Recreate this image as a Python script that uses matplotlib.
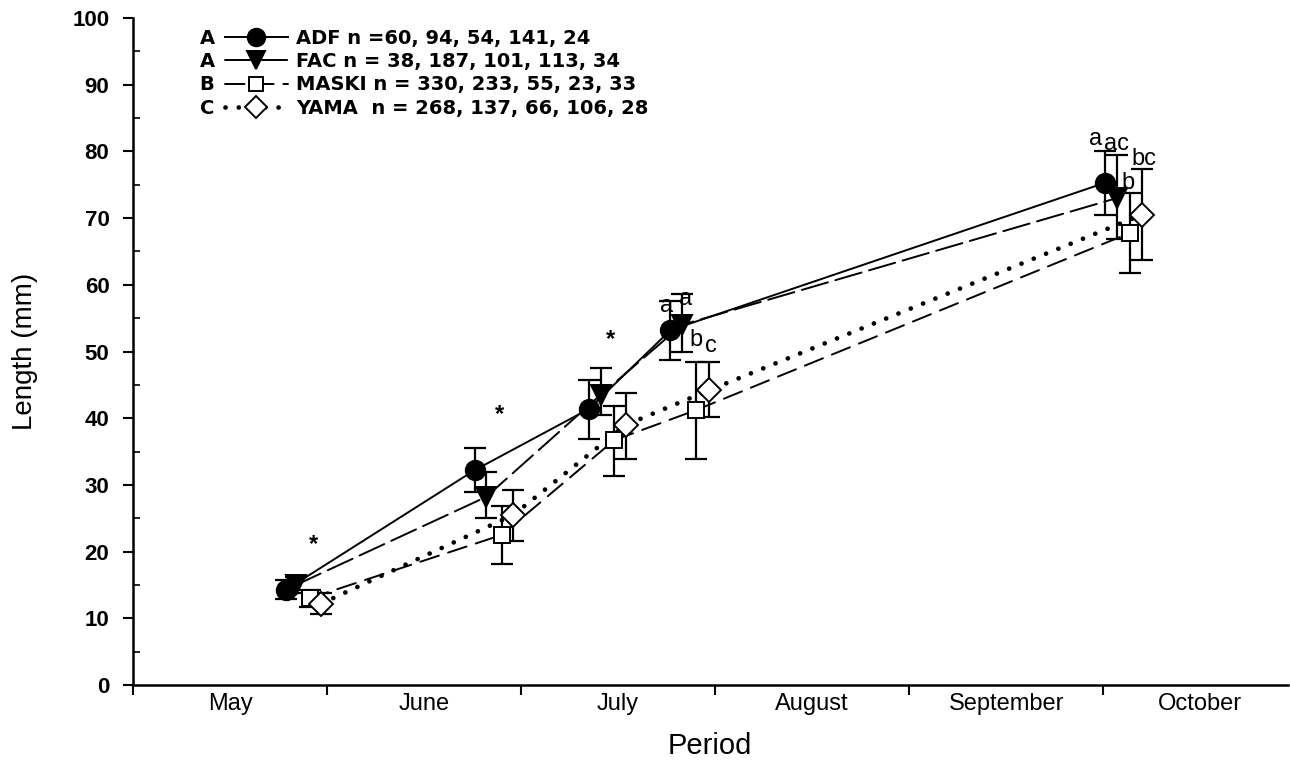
import matplotlib
matplotlib.use('Agg')
import matplotlib.pyplot as plt
from matplotlib.lines import Line2D
from matplotlib.ticker import MultipleLocator
import numpy as np

plt.rcParams['font.family'] = ['Liberation Sans', 'DejaVu Sans']

# x positions in month units (0 = start of May)
months = ['May', 'June', 'July', 'August', 'September', 'October']

adf_x = [0.79, 1.76, 2.35, 2.77, 5.01]
adf_y = [14.3, 32.2, 41.4, 53.2, 75.3]
adf_lo = [12.9, 29.0, 36.9, 48.7, 70.5]
adf_hi = [15.7, 35.5, 45.7, 57.6, 80.1]

fac_x = [0.84, 1.82, 2.41, 2.83, 5.07]
fac_y = [15.0, 28.2, 43.5, 54.0, 73.0]
fac_lo = [13.8, 25.0, 40.5, 49.9, 66.9]
fac_hi = [16.2, 32.0, 47.5, 58.6, 79.5]

maski_x = [0.91, 1.90, 2.48, 2.90, 5.14]
maski_y = [13.0, 22.5, 36.7, 41.2, 67.8]
maski_lo = [11.7, 18.1, 31.3, 33.9, 61.8]
maski_hi = [14.3, 26.9, 41.8, 48.4, 73.8]

yama_x = [0.97, 1.96, 2.54, 2.97, 5.20]
yama_y = [12.2, 25.5, 39.0, 44.2, 70.5]
yama_lo = [10.6, 21.6, 33.9, 40.2, 63.7]
yama_hi = [13.8, 29.2, 43.8, 48.4, 77.4]

labels = ['ADF n =60, 94, 54, 141, 24',
          'FAC n = 38, 187, 101, 113, 34',
          'MASKI n = 330, 233, 55, 23, 33',
          'YAMA  n = 268, 137, 66, 106, 28']
groups = ['A', 'A', 'B', 'C']

# significance marks
star_x = [0.93, 1.89, 2.46]
star_y = [21.0, 40.6, 51.8]
let_text = ['a', 'a', 'b', 'c', 'a', 'ac', 'b', 'bc']
let_x = [2.75, 2.85, 2.90, 2.98, 4.96, 5.07, 5.13, 5.21]
let_y = [56.8, 57.8, 51.8, 50.9, 81.8, 81.1, 75.2, 78.8]

fig = plt.figure(figsize=(12.9, 7.67), dpi=100)
ax = fig.add_axes([0.1031, 0.1069, 0.895, 0.8696])

series = [
    (adf_x, adf_y, adf_lo, adf_hi, '-', 'o', 'black', 14, 1.4),
    (fac_x, fac_y, fac_lo, fac_hi, (0, (14, 4)), 'v', 'black', 14, 1.4),
    (maski_x, maski_y, maski_lo, maski_hi, (0, (10, 5)), 's', 'white', 11, 1.4),
    (yama_x, yama_y, yama_lo, yama_hi, (0, (0.01, 2.8)), 'D', 'white', 12.5, 3.4),
]

handles = []
for xs, ys, lo, hi, ls, mk, fc, ms, lw in series:
    ys = np.array(ys)
    err = [ys - np.array(lo), np.array(hi) - ys]
    ax.errorbar(xs, ys, yerr=err, fmt='none', ecolor='black',
                elinewidth=1.6, capsize=8, capthick=1.6, zorder=2)
    ax.plot(xs, ys, color='black', ls=ls, lw=lw, dash_capstyle='round',
            zorder=3)
    ax.plot(xs, ys, ls='none', marker=mk, ms=ms, mfc=fc, mec='black',
            mew=1.4, zorder=4)
    handles.append(Line2D([], [], color='black', ls=ls, lw=lw,
                          dash_capstyle='round', marker=mk, ms=ms * 0.9,
                          mfc=fc, mec='black', mew=1.4))

for sx, sy in zip(star_x, star_y):
    ax.text(sx, sy, '*', fontsize=17, fontweight='bold', ha='center', va='center')
for t, lx, ly in zip(let_text, let_x, let_y):
    ax.text(lx, ly, t, fontsize=17, ha='center', va='center')

leg = ax.legend(handles, labels, loc='upper left', bbox_to_anchor=(0.0728, 0.9955),
                borderaxespad=0, frameon=False, handlelength=3.25,
                handletextpad=0.4, labelspacing=0.22,
                prop={'family': 'DejaVu Sans', 'size': 14, 'weight': 'bold'})

ax.set_xlim(0, 5.95)
ax.set_ylim(0, 100)
ax.set_xticks(range(6))
ax.set_xticklabels([])
ax.set_xticks(np.arange(6) + 0.5, minor=True)
ax.set_xticklabels(months, minor=True, fontsize=17)
ax.tick_params(axis='x', which='minor', length=0, pad=6)
ax.tick_params(axis='x', which='major', length=7, width=1.5, direction='out')
ax.yaxis.set_major_locator(MultipleLocator(10))
ax.yaxis.set_minor_locator(MultipleLocator(5))
ax.tick_params(axis='y', which='major', length=7, width=1.5, direction='out',
               labelsize=16, pad=10)
ax.tick_params(axis='y', which='minor', length=5, width=1.2, direction='in')
for lab in ax.get_yticklabels():
    lab.set_fontweight('bold')

ax.spines['top'].set_visible(False)
ax.spines['right'].set_visible(False)
ax.spines['left'].set_linewidth(1.8)
ax.spines['bottom'].set_linewidth(1.8)

ax.set_ylabel('Length (mm)', fontsize=20, labelpad=25)
ax.set_xlabel('Period', fontsize=21, labelpad=12)

# group letters beside the legend rows
fig.canvas.draw()
inv = fig.transFigure.inverted()
for g, txt in zip(groups, leg.get_texts()):
    bb = txt.get_window_extent()
    yc = inv.transform((0, (bb.y0 + bb.y1) / 2))[1]
    fig.text(207 / 1290, yc, g, fontsize=14, fontweight='bold',
             family='DejaVu Sans', ha='center', va='center')

fig.savefig('out.png', dpi=100)
